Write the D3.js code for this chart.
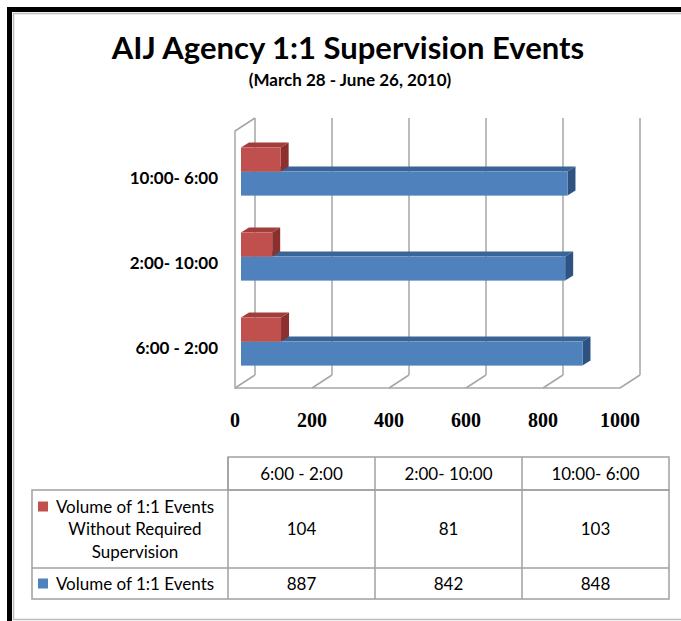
<!DOCTYPE html>
<html>
<head>
<meta charset="utf-8">
<script src="https://cdn.jsdelivr.net/npm/d3@7"></script>
<style>
  body { margin: 0; background: #fff; }
  svg text { font-family: Lato, "Open Sans", sans-serif; fill: #000; }
</style>
</head>
<body>
<script>
// chart data
var categories = ["6:00 - 2:00", "2:00- 10:00", "10:00- 6:00"];
var seriesNames = ["Volume of 1:1 Events Without Required Supervision", "Volume of 1:1 Events"];
var legendLines = [["Volume of 1:1 Events", "Without Required", "Supervision"], ["Volume of 1:1 Events"]];
var withoutSupervision = [104, 81, 103];
var totalEvents = [887, 842, 848];
var xTicks = [0, 200, 400, 600, 800, 1000];

var width = 681, height = 621;

var svg = d3.select("body").append("svg")
    .attr("width", width)
    .attr("height", height);

// page frame: thick black top/left, thin grey inside
svg.append("rect").attr("x", 7).attr("y", 7).attr("width", 681).attr("height", 5).style("fill", "#000");
svg.append("rect").attr("x", 7).attr("y", 7).attr("width", 5).attr("height", 621).style("fill", "#000");
svg.append("path")
    .attr("d", "M681,13.5H13.5V619.5H681")
    .style("fill", "none")
    .style("stroke", "#bdbdbd")
    .style("stroke-width", "1.5px");

// titles
svg.append("text")
    .text("AIJ Agency 1:1 Supervision Events")
    .attr("x", 348).attr("y", 59)
    .attr("text-anchor", "middle")
    .style("font-size", "31px")
    .style("font-weight", 700);

svg.append("text")
    .text("(March 28 - June 26, 2010)")
    .attr("x", 350).attr("y", 86)
    .attr("text-anchor", "middle")
    .style("font-size", "17px")
    .style("font-weight", 700);

// 3d projection: back wall origin, depth offset towards the viewer
var wallLeft = 255, wallBottom = 375, wallTop = 118;
var depthX = -20, depthY = 13;

var x = d3.scaleLinear().domain([0, 1000]).range([0, 385]);
var y = d3.scaleBand().domain(categories).range([wallBottom, 120])
    .paddingInner(0.435).paddingOuter(0.2175);
var sub = d3.scaleBand().domain(["red", "blue"]).range([0, y.bandwidth()]);

function P(v, yy, d) {
    return [wallLeft + x(v) + depthX * d, yy + depthY * d];
}

var gridColor = "#a6a6a6";
var grid = svg.append("g")
    .style("stroke", gridColor)
    .style("stroke-width", "1.5px")
    .style("fill", "none");

// back wall gridlines
grid.selectAll(".vgrid")
    .data(xTicks)
    .enter()
    .append("line")
    .attr("x1", function(d){ return P(d, 0, 0)[0]; })
    .attr("x2", function(d){ return P(d, 0, 0)[0]; })
    .attr("y1", wallTop)
    .attr("y2", wallBottom);

// floor diagonals
grid.selectAll(".diag")
    .data(xTicks)
    .enter()
    .append("line")
    .attr("x1", function(d){ return P(d, wallBottom, 0)[0]; })
    .attr("y1", function(d){ return P(d, wallBottom, 0)[1]; })
    .attr("x2", function(d){ return P(d, wallBottom, 1)[0]; })
    .attr("y2", function(d){ return P(d, wallBottom, 1)[1]; });

// floor front edge and left wall
grid.append("path")
    .attr("d", "M" + P(1000, wallBottom, 1) + "L" + P(0, wallBottom, 1) +
               "L" + P(0, wallTop, 1) + "L" + P(0, wallTop, 0));

// bars
var colors = {
    red:  {front: "#c0504d", top: "#a23d3a", side: "#8b302e"},
    blue: {front: "#4f81bd", top: "#3a6496", side: "#2e5383"}
};
var dFront = 0.7, dBack = 0.3;

function drawBar(v, t, h, c) {
    var g = svg.append("g").style("stroke", "none");
    var f0 = P(0, t, dFront), f1 = P(v, t + h, dFront);
    g.append("polygon")
        .attr("points", [P(0, t, dFront), P(v, t, dFront), P(v, t, dBack), P(0, t, dBack)].join(" "))
        .style("fill", c.top);
    g.append("polygon")
        .attr("points", [P(v, t, dFront), P(v, t + h, dFront), P(v, t + h, dBack), P(v, t, dBack)].join(" "))
        .style("fill", c.side);
    g.append("rect")
        .attr("x", f0[0]).attr("y", f0[1])
        .attr("width", f1[0] - f0[0]).attr("height", f1[1] - f0[1])
        .style("fill", c.front);
}

categories.forEach(function(cat, i){
    drawBar(totalEvents[i], y(cat) + sub("blue"), sub.bandwidth(), colors.blue);
    drawBar(withoutSupervision[i], y(cat) + sub("red"), sub.bandwidth(), colors.red);
});

// category labels
svg.selectAll(".catLabel")
    .data(categories)
    .enter()
    .append("text")
    .text(function(d){ return d; })
    .attr("x", 218)
    .attr("y", function(d){ return P(0, y(d) + y.bandwidth() / 2, 1)[1] + 8; })
    .attr("text-anchor", "end")
    .style("font-size", "17px")
    .style("font-weight", 700);

// value axis labels
svg.selectAll(".tickLabel")
    .data(xTicks)
    .enter()
    .append("text")
    .text(function(d){ return d; })
    .attr("x", function(d){ return P(d, wallBottom, 1)[0]; })
    .attr("y", 427)
    .attr("text-anchor", "middle")
    .style("font-family", "'Liberation Serif', serif")
    .style("font-size", "20px")
    .style("font-weight", 700);

// data table
var tableLeft = 32, colLeft = 228, tableRight = 669;
var rowTops = [457, 490, 568, 599];
var col = d3.scaleBand().domain(categories).range([colLeft, tableRight]);
var tableColor = "#a0a0a0";
var table = svg.append("g")
    .style("stroke", tableColor)
    .style("stroke-width", "1.5px")
    .style("fill", "none");

table.append("rect")
    .attr("x", colLeft).attr("y", rowTops[0])
    .attr("width", tableRight - colLeft).attr("height", rowTops[1] - rowTops[0]);
table.append("rect")
    .attr("x", tableLeft).attr("y", rowTops[1])
    .attr("width", tableRight - tableLeft).attr("height", rowTops[3] - rowTops[1]);
table.append("line")
    .attr("x1", tableLeft).attr("x2", tableRight)
    .attr("y1", rowTops[2]).attr("y2", rowTops[2]);
[colLeft].concat(categories.slice(1).map(function(c){ return col(c); })).forEach(function(xx){
    table.append("line")
        .attr("x1", xx).attr("x2", xx)
        .attr("y1", rowTops[0]).attr("y2", rowTops[3]);
});

// header
svg.selectAll(".colHead")
    .data(categories)
    .enter()
    .append("text")
    .text(function(d){ return d; })
    .attr("x", function(d){ return col(d) + col.bandwidth() / 2; })
    .attr("y", (rowTops[0] + rowTops[1]) / 2 + 6)
    .attr("text-anchor", "middle")
    .style("font-size", "17px");

// legend cells and values
var rowData = [withoutSupervision, totalEvents];
var rowColors = [colors.red.front, colors.blue.front];
rowData.forEach(function(vals, r){
    var top = rowTops[r + 1], bottom = rowTops[r + 2];
    var mid = (top + bottom) / 2;
    var lines = legendLines[r];
    var lh = 22.5;
    var first = mid - (lines.length - 1) * lh / 2;
    lines.forEach(function(l, k){
        svg.append("text")
            .text(l)
            .attr("x", 135)
            .attr("y", first + k * lh + 6)
            .attr("text-anchor", "middle")
            .style("font-size", "17px");
    });
    svg.append("rect")
        .attr("x", 38).attr("y", first - 5)
        .attr("width", 10).attr("height", 10)
        .style("fill", rowColors[r]);
    svg.selectAll(".val" + r)
        .data(vals)
        .enter()
        .append("text")
        .text(function(d){ return d; })
        .attr("x", function(d, i){ return col(categories[i]) + col.bandwidth() / 2; })
        .attr("y", mid + 6)
        .attr("text-anchor", "middle")
        .style("font-size", "17px");
});
</script>
</body>
</html>
